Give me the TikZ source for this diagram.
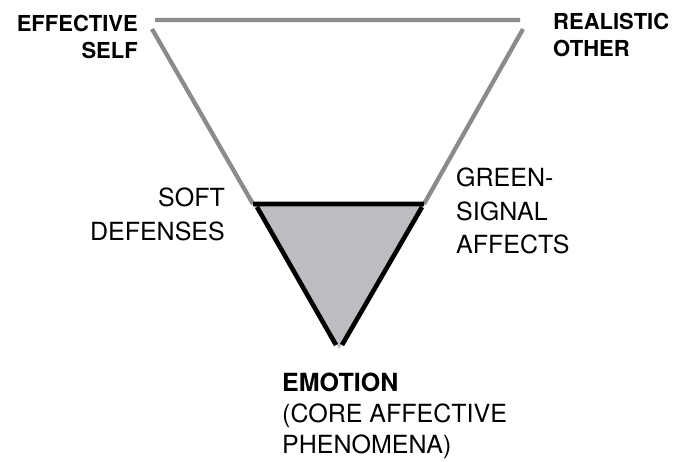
\documentclass[tikz,border=0pt]{standalone}
\usepackage{fontspec}
\setmainfont{TeX Gyre Heros}
\usetikzlibrary{positioning}
\definecolor{linegray}{HTML}{8A8B8D}
\definecolor{coregray}{HTML}{BCBDC0}
\tikzset{
  outer/.style = {
      draw=linegray,
      line width=4.3pt
  },
  inner/.style = {
      draw=black,
      line width=4.6pt
  },
  core/.style = {
      fill=coregray,
      draw=none
  },
  heading/.style = {
      font=\fontsize{22}{27}\selectfont\bfseries,
      inner sep=0pt
  },
  side/.style = {
      font=\fontsize{25}{33.5}\selectfont,
      inner sep=0pt
  }
}

\begin{document}
\begin{tikzpicture}[x=1pt, y=-1pt]
    \useasboundingbox (0,0) rectangle (695,461);
    % Corners
    \coordinate (topl) at (155,20);
    \coordinate (topr) at (520,20);
    \coordinate (diagl) at (152,29);
    \coordinate (diagr) at (523,29);
    \coordinate (barl) at (253,204);
    \coordinate (barr) at (424,204);
    \coordinate (apex) at (339,349);
    \coordinate (sidel) at (257,207);
    \coordinate (sider) at (422,207);
    \coordinate (tipl) at (336,345);
    \coordinate (tipr) at (342,345);
    % Nodes
    \node[heading, anchor=north east, align=right] (self) at (138,15) {EFFECTIVE\\SELF};
    \node[heading, anchor=north west, align=left] (other) at (553,13) {REALISTIC\\OTHER};
    \node[side, anchor=north east, align=right] (defenses) at (225,188) {SOFT\\DEFENSES};
    \node[side, anchor=north west, align=left] (affects) at (456,168) {GREEN-\\SIGNAL\\AFFECTS};
    \node[side, anchor=north west, align=left, font=\fontsize{25}{31}\selectfont] (emotion) at (282,373)
        {\textbf{EMOTION}\\(CORE AFFECTIVE\\PHENOMENA)};
    % Core
    \path[core] (barl) -- (barr) -- (apex) -- cycle;
    % Edges
    \path[outer]
    (topl) -- (topr)
    (diagl) -- (barl)
    (diagr) -- (barr);
    \path[inner]
    (barl) -- (barr)
    (sidel) -- (tipl)
    (sider) -- (tipr);
\end{tikzpicture}
\end{document}
